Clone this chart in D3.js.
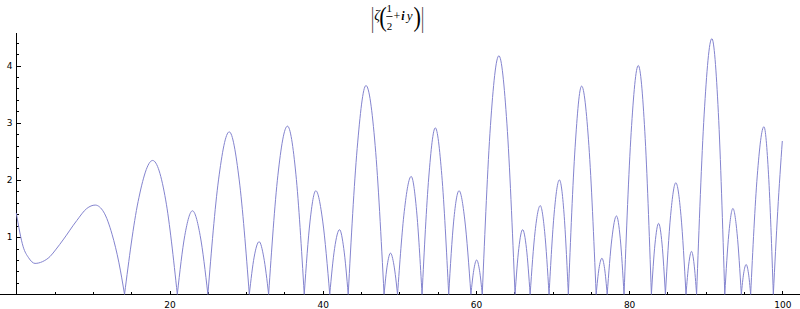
<!DOCTYPE html>
<html>
<head>
<meta charset="utf-8">
<script src="https://cdn.jsdelivr.net/npm/d3@7"></script>
<style>
  html, body { margin: 0; padding: 0; background: #fff; }
  svg { display: block; }
</style>
</head>
<body>
<svg id="chart" width="800" height="309"></svg>
<script>
const tVals = [
  0, 0.9, 1.6, 2.45, 3.4, 4.4, 5.2, 6.1, 7.9, 9.2, 10.3, 11.4, 12.5, 13.4, 14.13,
  15.9, 17.8, 19.5, 21.02,
  22.0, 23.0, 24.0, 25.01,
  26.4, 27.8, 29.1, 30.42,
  31.05, 31.7, 32.3, 32.94,
  34.15, 35.4, 36.5, 37.59,
  38.35, 39.1, 40.0, 40.92,
  41.55, 42.2, 42.75, 43.33,
  44.5, 45.65, 46.85, 48.01,
  48.43, 48.85, 49.3, 49.77,
  50.65, 51.55, 52.25, 52.97,
  53.85, 54.7, 55.55, 56.45,
  57.1, 57.8, 58.55, 59.35,
  59.72, 60.1, 60.47, 60.83,
  61.9, 63.0, 64.05, 65.11,
  65.6, 66.1, 66.6, 67.08,
  67.73, 68.4, 68.97, 69.55,
  70.22, 70.9, 71.5, 72.07,
  72.95, 73.8, 74.75, 75.70,
  76.07, 76.45, 76.8, 77.14,
  77.75, 78.35, 78.85, 79.34,
  80.27, 81.2, 82.05, 82.91,
  83.38, 83.85, 84.3, 84.74,
  85.42, 86.1, 86.77, 87.43,
  87.79, 88.15, 88.48, 88.81,
  89.8, 90.8, 91.65, 92.49,
  93.02, 93.55, 94.1, 94.65,
  94.96, 95.28, 95.58, 95.87,
  96.73, 97.6, 98.2, 98.83,
  99.4, 100
];
const absZeta = [
  1.42, 0.83, 0.64, 0.54, 0.57, 0.66, 0.79, 0.95, 1.29, 1.50, 1.56, 1.44, 1.05, 0.55, 0,
  1.62, 2.34, 1.65, 0,
  1.03, 1.46, 1.03, 0,
  2.00, 2.84, 2.00, 0,
  0.65, 0.92, 0.65, 0,
  2.08, 2.94, 2.10, 0,
  1.28, 1.81, 1.28, 0,
  0.80, 1.13, 0.80, 0,
  2.55, 3.65, 2.60, 0,
  0.51, 0.72, 0.51, 0,
  1.45, 2.06, 1.47, 0,
  2.05, 2.91, 2.08, 0,
  1.28, 1.81, 1.30, 0,
  0.42, 0.60, 0.42, 0,
  2.95, 4.17, 2.98, 0,
  0.80, 1.13, 0.80, 0,
  1.10, 1.55, 1.10, 0,
  1.42, 2.00, 1.42, 0,
  2.57, 3.64, 2.60, 0,
  0.45, 0.63, 0.45, 0,
  0.97, 1.37, 0.97, 0,
  2.83, 4.00, 2.85, 0,
  0.88, 1.24, 0.88, 0,
  1.38, 1.95, 1.38, 0,
  0.53, 0.75, 0.53, 0,
  3.15, 4.47, 3.18, 0,
  1.06, 1.50, 1.06, 0,
  0.37, 0.52, 0.37, 0,
  2.07, 2.93, 2.10, 0,
  1.45, 2.68
];
const xMajorTicks = [20, 40, 60, 80, 100];
const xMinorTicks = [5, 10, 15, 25, 30, 35, 45, 50, 55, 65, 70, 75, 85, 90, 95];
const yMajorTicks = [1, 2, 3, 4];
const yMinorTicks = [0.2, 0.4, 0.6, 0.8, 1.2, 1.4, 1.6, 1.8, 2.2, 2.4, 2.6, 2.8,
                     3.2, 3.4, 3.6, 3.8, 4.2, 4.4];

const svg = d3.select("#chart");
const x = d3.scaleLinear().domain([0, 100]).range([16.3, 782.3]);
const y = d3.scaleLinear().domain([0, 4]).range([294.3, 65.5]);

// Axes lines
svg.append("line").attr("x1", 0).attr("x2", 800).attr("y1", 294.5).attr("y2", 294.5)
  .attr("stroke", "#000").attr("stroke-width", 1);
svg.append("line").attr("x1", 16.5).attr("x2", 16.5).attr("y1", 33).attr("y2", 294.5)
  .attr("stroke", "#000").attr("stroke-width", 1);

const tickFont = "DejaVu Sans, sans-serif";

// X axis (ticks pointing up, labels below)
const gx = svg.append("g").attr("transform", "translate(0,294.5)");
gx.call(d3.axisBottom(x).tickValues(xMajorTicks).tickSize(-4).tickPadding(7).tickFormat(d3.format("d")));
const gxm = svg.append("g").attr("transform", "translate(0,294.5)");
gxm.call(d3.axisBottom(x).tickValues(xMinorTicks).tickSize(-2.5).tickFormat(""));

// Y axis (ticks pointing right, labels left)
const gy = svg.append("g").attr("transform", "translate(16.5,0)");
gy.call(d3.axisLeft(y).tickValues(yMajorTicks).tickSize(-4).tickPadding(4).tickFormat(d3.format("d")));
const gym = svg.append("g").attr("transform", "translate(16.5,0)");
gym.call(d3.axisLeft(y).tickValues(yMinorTicks).tickSize(-2.5).tickFormat(""));

[gx, gxm, gy, gym].forEach(g => {
  g.select(".domain").remove();
  g.selectAll("line").attr("stroke", "#000").attr("shape-rendering", "crispEdges");
  g.selectAll("text").attr("font-family", tickFont).attr("font-size", 9).attr("fill", "#000");
});

// Curve: split at zeros so each arch gets a cusp at the zero
const pts = tVals.map((t, i) => [t, absZeta[i]]);
const segments = [];
let cur = [];
pts.forEach(p => {
  cur.push(p);
  if (p[1] === 0) { segments.push(cur); cur = [p]; }
});
if (cur.length > 1) segments.push(cur);

const line = d3.line().x(d => x(d[0])).y(d => y(d[1])).curve(d3.curveMonotoneX);
const pathD = segments.map(s => line(s)).join("");
svg.append("path")
  .attr("d", pathD)
  .attr("fill", "none")
  .attr("stroke", "#8484cf")
  .attr("stroke-width", 1)
  .attr("stroke-linejoin", "round");

// Title: |ζ(1/2 + i y)|
const serif = "Liberation Serif, Times New Roman, serif";
const title = svg.append("g").attr("font-family", serif).attr("fill", "#000");
function bar(xc) {
  title.append("text").attr("text-anchor", "middle")
    .attr("transform", `translate(${xc},26.5) scale(0.6,1.1)`)
    .attr("font-size", 26).attr("fill", "#333").text("|");
}
bar(372.5);
title.append("text").attr("x", 377.2).attr("y", 20).attr("text-anchor", "middle")
  .attr("font-size", 14).attr("font-style", "italic").text("ζ");
title.append("text").attr("text-anchor", "middle")
  .attr("transform", "translate(383,26) scale(0.8,1)")
  .attr("font-size", 28).text("(");
title.append("text").attr("x", 389.2).attr("y", 12).attr("text-anchor", "middle")
  .attr("font-size", 11).text("1");
title.append("line").attr("x1", 386.3).attr("x2", 392.5).attr("y1", 16.5).attr("y2", 16.5)
  .attr("stroke", "#000").attr("stroke-width", 0.8);
title.append("text").attr("x", 389.4).attr("y", 29.5).attr("text-anchor", "middle")
  .attr("font-size", 11).text("2");
title.append("text").attr("x", 396.8).attr("y", 20).attr("text-anchor", "middle")
  .attr("font-size", 12).text("+");
title.append("text").attr("x", 403).attr("y", 20).attr("text-anchor", "middle")
  .attr("font-size", 12).attr("font-style", "italic").attr("font-weight", "bold").text("i");
title.append("text").attr("x", 409.7).attr("y", 20).attr("text-anchor", "middle")
  .attr("font-size", 13).attr("font-style", "italic").text("y");
title.append("text").attr("text-anchor", "middle")
  .attr("transform", "translate(417.2,26) scale(0.8,1)")
  .attr("font-size", 28).text(")");
bar(422.5);
</script>
</body>
</html>
